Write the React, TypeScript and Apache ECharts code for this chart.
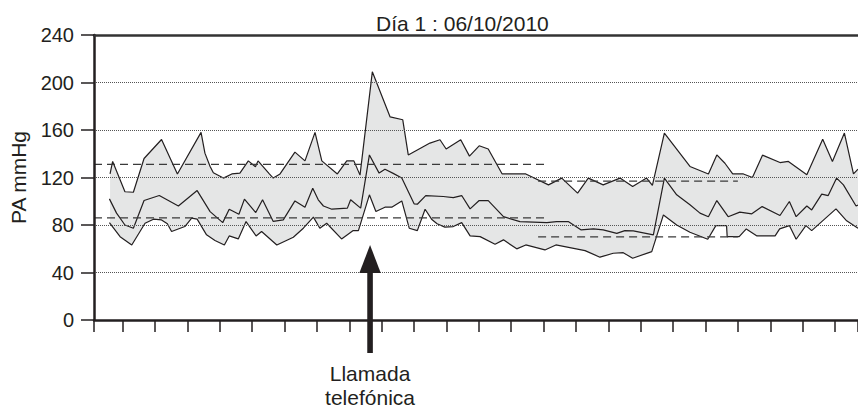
import React, { useEffect, useRef } from "react";
import * as echarts from "echarts";

const chartTitle = "Día 1 : 06/10/2010";
const yAxisName = "PA mmHg";
const callLabel = "Llamada\ntelefónica";
const callHour = 7.64;

// hours from the first tick, mmHg
const systolic: [number, number][] = [
  [-0.39, 123], [-0.31, 133.5], [0.07, 108], [0.33, 107.6], [0.66, 136], [1.2, 152], [1.69, 123],
  [2.42, 158], [2.54, 140.5], [2.7, 129.3], [2.8, 124], [3.11, 119.5], [3.37, 123], [3.62, 123.7],
  [3.88, 134], [4.1, 129], [4.18, 134], [4.53, 123], [4.65, 119.5], [4.86, 123], [5.32, 141.4],
  [5.63, 134], [5.94, 158], [6.15, 134], [6.63, 123], [6.92, 134], [7.14, 134], [7.33, 122],
  [7.71, 209], [8.26, 171], [8.65, 168.6], [8.82, 139], [9.49, 149], [9.8, 151.8], [9.99, 144],
  [10.44, 151.8], [10.71, 138], [11.01, 146.7], [11.29, 144], [11.72, 123], [12.45, 123],
  [13.15, 113.8], [13.56, 119.5], [14.05, 106.8], [14.38, 119.5], [14.84, 113.8], [15.36, 119.5],
  [15.75, 112.4], [16.18, 119.5], [16.36, 113.3], [16.73, 157.4], [17.52, 129.3], [18.09, 123],
  [18.35, 139], [18.6, 132], [18.84, 123], [19.17, 123], [19.45, 120], [19.76, 138.8], [20.3, 132.6],
  [20.56, 133.5], [21.13, 122.3], [21.62, 152.3], [21.92, 133.5], [22.29, 157.4], [22.57, 123],
  [22.71, 127],
];

const mean: [number, number][] = [
  [-0.41, 102], [-0.19, 90], [0.07, 80], [0.33, 77.3], [0.66, 100.6], [1.13, 104.8], [1.72, 96],
  [2.3, 109], [2.7, 91.3], [3.09, 82], [3.29, 93.3], [3.59, 89], [3.76, 101.8], [4.11, 90.5],
  [4.32, 101.2], [4.65, 83], [4.96, 84.3], [5.32, 100.3], [5.63, 95], [5.87, 111], [6.04, 101.2],
  [6.2, 96], [6.46, 93.3], [6.94, 94.2], [7.04, 101.2], [7.35, 94.2], [7.62, 139], [7.92, 123.7],
  [8.1, 127], [8.34, 123.7], [8.62, 119.5], [9.0, 97.8], [9.1, 97.5], [9.36, 104.8], [9.9, 104],
  [10.21, 103], [10.47, 104.8], [10.73, 93.6], [11.01, 100.6], [11.29, 100.6], [11.76, 87],
  [12.27, 82.9], [13.1, 82], [13.4, 82.9], [13.76, 82.9], [14.15, 75.9], [14.54, 76.7],
  [14.84, 75.9], [15.26, 73], [15.51, 75.3], [15.77, 75], [16.39, 71.7], [16.73, 119.5],
  [17.11, 105.4], [17.52, 97], [17.83, 90], [18.09, 87], [18.35, 100.6], [18.7, 87], [19.06, 90.8],
  [19.43, 89.4], [19.75, 95.5], [20.3, 88], [20.59, 99.8], [20.8, 87], [21.13, 96], [21.28, 92.7],
  [21.59, 106], [21.79, 104.8], [22.05, 119.5], [22.26, 113.8], [22.65, 96], [22.71, 96.7],
];

const diastolic: [number, number][] = [
  [-0.41, 82], [-0.08, 70.2], [0.28, 63.2], [0.69, 81.5], [0.95, 84.9], [1.2, 84.3], [1.38, 81],
  [1.51, 74.5], [1.92, 78.7], [2.13, 85.8], [2.3, 84.9], [2.59, 71.7], [2.85, 66.9], [3.14, 63.2],
  [3.29, 70.8], [3.57, 68.3], [3.81, 82.9], [4.12, 70.8], [4.29, 74.5], [4.76, 63.2], [5.27, 69.7],
  [5.58, 77.3], [5.89, 86.6], [6.09, 77.3], [6.3, 81.5], [6.76, 68.3], [7.12, 75.3], [7.28, 75.3],
  [7.62, 105.4], [7.82, 91.3], [8.1, 95], [8.31, 95], [8.62, 100.3], [8.85, 77.3], [9.1, 75.3],
  [9.34, 93.3], [9.54, 84.9], [9.71, 81], [9.95, 78.2], [10.21, 78.7], [10.47, 82], [10.73, 70.8],
  [11.04, 70.2], [11.5, 63.8], [11.76, 67.5], [12.17, 59.9], [12.45, 63.2], [13.04, 59],
  [13.38, 63.2], [14.28, 58.4], [14.74, 52.9], [15.15, 56.2], [15.46, 56.7], [15.75, 52],
  [16.34, 57.6], [16.7, 88.5], [17.11, 80], [17.52, 73.9], [18.07, 68], [18.32, 79.5],
  [18.65, 79.5], [18.67, 70.2], [19.04, 70.2], [19.26, 76.7], [19.59, 70.8], [20.15, 70.8],
  [20.29, 76.7], [20.59, 79.5], [20.8, 68], [21.1, 79.5], [21.28, 75.3], [22.03, 93.6],
  [22.36, 83.5], [22.71, 77.3],
];

const dayRange = [-0.886, 13.04];
const dayLimits = [131, 86];
const nightRange = [12.83, 19.0];
const nightLimits = [117, 70];

const xMin = -0.886;
const xMax = 22.71;
const yMin = 0;
const yMax = 240;
const yStep = 40;

const INK = "#231f20";
const FONT = "'Liberation Sans', Arial, Helvetica, sans-serif";

export default function App() {
  const ref = useRef<HTMLDivElement>(null);

  useEffect(() => {
    document.body.style.margin = "0";
    const chart = echarts.init(ref.current!, null, { renderer: "svg" });
    const dataLine = { color: INK, width: 1.2 };
    const dashLine = { color: "#3a3a3a", width: 1.3, type: [8, 5] as number[] };

    const limitSeries = (range: number[], v: number) => ({
      type: "line",
      data: [
        [range[0], v],
        [range[1], v],
      ],
      symbol: "none",
      lineStyle: dashLine,
      silent: true,
      z: 3,
    });

    chart.setOption({
      animation: false,
      backgroundColor: "#ffffff",
      title: {
        text: chartTitle,
        left: 371,
        top: 8,
        textStyle: { fontFamily: FONT, fontSize: 21, fontWeight: "normal", color: INK },
      },
      grid: { left: 94, right: 0, top: 35, bottom: 91 },
      xAxis: [
        {
          type: "value",
          min: xMin,
          max: xMax,
          minInterval: 1,
          maxInterval: 1,
          splitNumber: 24,
          z: 4,
          axisLine: { show: true, onZero: false, lineStyle: { color: INK, width: 2.5 } },
          axisTick: { show: true, length: 12, lineStyle: { color: INK, width: 1.5 } },
          axisLabel: { show: false },
          splitLine: { show: false },
        },
        {
          type: "value",
          position: "top",
          min: xMin,
          max: xMax,
          z: 4,
          axisLine: { show: true, onZero: false, lineStyle: { color: "#333", width: 2.5 } },
          axisTick: { show: false },
          axisLabel: { show: false },
          splitLine: { show: false },
        },
      ],
      yAxis: {
        type: "value",
        min: yMin,
        max: yMax,
        interval: yStep,
        z: 4,
        name: yAxisName,
        nameLocation: "middle",
        nameRotate: 90,
        nameGap: 65,
        nameTextStyle: { fontFamily: FONT, fontSize: 21, color: INK },
        axisLine: { show: true, onZero: false, lineStyle: { color: INK, width: 2.5 } },
        axisTick: { show: true, length: 13, lineStyle: { color: INK, width: 1.5 } },
        axisLabel: { margin: 20, fontFamily: FONT, fontSize: 20, color: INK },
        splitLine: { show: true, lineStyle: { type: "dotted", color: "#555", width: 1 } },
      },
      series: [
        {
          name: "Sistólica",
          type: "line",
          data: systolic,
          symbol: "none",
          lineStyle: dataLine,
          areaStyle: { color: "#e5e6e6", opacity: 1, origin: "start" },
          z: 2,
        },
        {
          name: "Diastólica",
          type: "line",
          data: diastolic,
          symbol: "none",
          lineStyle: dataLine,
          areaStyle: { color: "#ffffff", opacity: 1, origin: "start" },
          z: 2,
        },
        {
          name: "Media",
          type: "line",
          data: mean,
          symbol: "none",
          lineStyle: dataLine,
          z: 3,
        },
        limitSeries(dayRange, dayLimits[0]),
        limitSeries(dayRange, dayLimits[1]),
        limitSeries(nightRange, nightLimits[0]),
        limitSeries(nightRange, nightLimits[1]),
      ],
    });

    const px = chart.convertToPixel({ xAxisIndex: 0 }, callHour) as number;
    chart.setOption({
      graphic: [
        {
          type: "polygon",
          shape: {
            points: [
              [px - 10.7, 273],
              [px, 245],
              [px + 10.7, 273],
            ],
          },
          style: { fill: INK },
          z: 10,
        },
        {
          type: "rect",
          shape: { x: px - 2.8, y: 271, width: 5.6, height: 82 },
          style: { fill: INK },
          z: 10,
        },
        {
          type: "text",
          x: px,
          y: 361,
          style: {
            text: callLabel,
            fontFamily: FONT,
            fontSize: 21,
            lineHeight: 24,
            fill: INK,
            align: "center",
            verticalAlign: "top",
          },
          z: 10,
        },
      ],
    });

    return () => chart.dispose();
  }, []);

  return <div ref={ref} style={{ width: 858, height: 411 }} />;
}
